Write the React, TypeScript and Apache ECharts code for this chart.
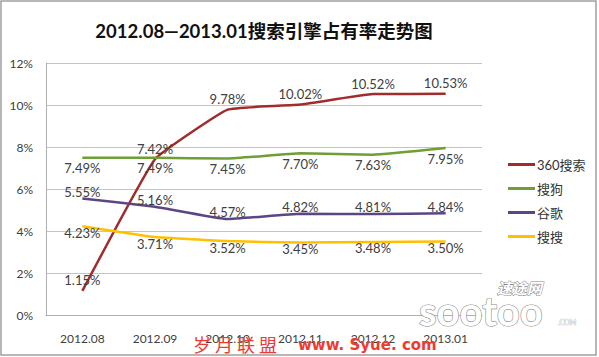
import React, { useEffect, useRef } from "react";
import * as echarts from "echarts";

const categories = ["2012.08", "2012.09", "2012.10", "2012.11", "2012.12", "2013.01"];
const s360 = [1.15, 7.42, 9.78, 10.02, 10.52, 10.53];
const sogou = [7.49, 7.49, 7.45, 7.7, 7.63, 7.95];
const google = [5.55, 5.16, 4.57, 4.82, 4.81, 4.84];
const soso = [4.23, 3.71, 3.52, 3.45, 3.48, 3.5];
const seriesNames = ["360搜索", "搜狗", "谷歌", "搜搜"];
const titleText = "2012.08—2013.01搜索引擎占有率走势图";

const FONT = "Lato, 'Noto Sans CJK SC', sans-serif";

export default function App() {
  const ref = useRef<HTMLDivElement>(null);
  useEffect(() => {
    if (!ref.current) return;
    const chart = echarts.init(ref.current, null, { renderer: "svg" });
    const mk = (name: string, data: number[], color: string, pos: string, dist: number) => ({
      name,
      type: "line",
      data,
      smooth: 0.1,
      symbol: "circle",
      symbolSize: 0.1,
      showSymbol: true,
      lineStyle: { color, width: 2.5 },
      itemStyle: { color },
      label: {
        show: true,
        position: pos,
        distance: dist,
        formatter: (p: any) => Number(p.value).toFixed(2) + "%",
        color: "#404040",
        fontSize: 13,
        fontFamily: FONT,
      },
    });
    chart.setOption({
      animation: false,
      backgroundColor: "#fff",
      title: {
        text: titleText,
        left: 259,
        textAlign: "center",
        top: 17,
        textStyle: { fontSize: 18.5, fontWeight: "bold", color: "#111", fontFamily: FONT },
      },
      grid: { left: 46, right: 117, top: 63, bottom: 42 },
      legend: {
        orient: "vertical",
        left: 503,
        top: 153,
        itemWidth: 27,
        itemHeight: 3,
        itemGap: 11,
        icon: "rect",
        data: seriesNames,
        textStyle: { fontSize: 13, color: "#333", fontFamily: FONT, padding: [0, 0, 0, -3] },
      },
      xAxis: {
        type: "category",
        data: categories,
        boundaryGap: true,
        axisLine: { lineStyle: { color: "#b0b0b0", width: 1 } },
        axisTick: { show: false },
        axisLabel: { color: "#404040", fontSize: 12, margin: 17, fontFamily: FONT },
      },
      yAxis: {
        type: "value",
        min: 0,
        max: 12,
        interval: 2,
        axisLine: { show: true, lineStyle: { color: "#b0b0b0", width: 1 } },
        axisTick: { show: false },
        splitLine: { lineStyle: { color: "#c4c4c4", width: 1 } },
        axisLabel: { color: "#404040", fontSize: 12, margin: 13, formatter: "{value}%", fontFamily: FONT },
      },
      series: [
        mk("360搜索", s360, "#a02c2c", "top", 4),
        mk("搜狗", sogou, "#6f9e34", "bottom", 4),
        mk("谷歌", google, "#5b4683", "top", 0),
        mk("搜搜", soso, "#ffc000", "bottom", 0),
      ],
      graphic: [
        {
          type: "rect",
          shape: { x: 1, y: 1, width: 595, height: 354 },
          style: { fill: "none", stroke: "#a0a0a0", lineWidth: 1.5 },
          silent: true,
        },
        {
          type: "text",
          x: 497,
          y: 280,
          style: {
            text: "速途网",
            fontSize: 15,
            fontStyle: "italic",
            fontWeight: "bold",
            fill: "#fff",
            stroke: "#8a8a8a",
            lineWidth: 1,
            fontFamily: "'Noto Sans CJK SC'",
          },
          z: 10,
        },
        {
          type: "text",
          x: 419,
          y: 291,
          style: {
            text: "sootoo",
            fontSize: 40,
            fontWeight: "bold",
            fill: "#fff",
            stroke: "#8a8a8a",
            lineWidth: 1.2,
            fontFamily: "Lato",
          },
          z: 10,
        },
        {
          type: "text",
          x: 558,
          y: 318,
          style: { text: ".COM", fontSize: 7, fill: "#fff", stroke: "#999", lineWidth: 0.5, fontFamily: "Lato" },
          z: 10,
        },
        {
          type: "text",
          x: 193,
          y: 335,
          style: {
            text: "岁 月 联 盟",
            fontSize: 18,
            fill: "#ef3a32",
            fontFamily: "'Noto Sans CJK SC'",
          },
          z: 10,
        },
        {
          type: "text",
          x: 298,
          y: 337,
          style: {
            text: "www. Syue. com",
            fontSize: 15,
            fontWeight: "bold",
            fill: "#ef3a32",
            fontFamily: "'DejaVu Sans'",
          },
          z: 10,
        },
      ],
    });
    return () => chart.dispose();
  }, []);
  return (
    <div
      ref={ref}
      style={{ position: "fixed", left: 0, top: 0, width: 599, height: 357 }}
    />
  );
}
